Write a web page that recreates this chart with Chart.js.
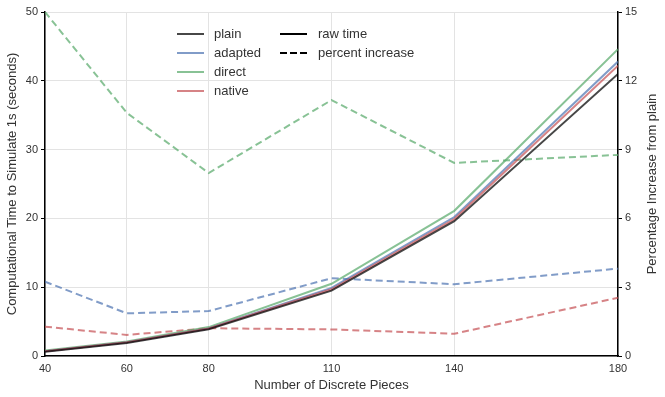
<!DOCTYPE html>
<html>
<head>
<meta charset="utf-8">
<script src="https://cdn.jsdelivr.net/npm/chart.js@4/dist/chart.umd.min.js"></script>
<style>
  html, body { margin: 0; padding: 0; background: #fff; }
  #wrap { width: 665px; height: 397px; }
</style>
</head>
<body>
<div id="wrap"><canvas id="myChart"></canvas></div>
<script>
// x values (number of discrete pieces)
var pieces = [40, 60, 80, 110, 140, 180]
// raw time, seconds (left axis)
var timePlain = [0.6, 1.9, 3.9, 9.5, 19.6, 41.0]
var timeAdapted = [0.7, 2.0, 4.0, 9.9, 20.2, 42.8]
var timeDirect = [0.8, 2.1, 4.2, 10.5, 21.1, 44.6]
var timeNative = [0.7, 2.0, 4.0, 9.7, 19.9, 42.2]
// percent increase from plain (right axis)
var pctAdapted = [3.24, 1.86, 1.96, 3.39, 3.13, 3.81]
var pctDirect = [15.0, 10.6, 7.98, 11.16, 8.42, 8.77]
var pctNative = [1.28, 0.92, 1.21, 1.16, 0.97, 2.54]
// tick labels
var leftTicks = [0, 10, 20, 30, 40, 50]
var rightTicks = [0, 3, 6, 9, 12, 15]

var colors = {
  plain: 'rgba(0, 0, 0, 0.72)',
  adapted: 'rgba(76, 114, 176, 0.7)',
  direct: 'rgba(85, 168, 104, 0.7)',
  native: 'rgba(196, 78, 82, 0.7)'
}
var font = '"Liberation Sans", Arial, sans-serif'

function pts (ys) {
  return pieces.map(function (x, i) { return { x: x, y: ys[i] } })
}

function line (data, color, axis, dashed, order) {
  return {
    data: pts(data),
    borderColor: color,
    backgroundColor: color,
    borderWidth: 2,
    borderDash: dashed ? [7, 4] : [],
    pointRadius: 0,
    fill: false,
    tension: 0,
    yAxisID: axis,
    order: order
  }
}

// two column legend and the right axis title
var extras = {
  id: 'extras',
  afterDraw: function (chart) {
    var c = chart.ctx
    c.save()
    c.font = '13px ' + font
    c.fillStyle = '#333'
    c.textBaseline = 'middle'
    c.lineWidth = 2
    var rows = [['plain', colors.plain], ['adapted', colors.adapted], ['direct', colors.direct], ['native', colors.native]]
    rows.forEach(function (r, i) {
      var y = 34 + i * 19
      c.strokeStyle = r[1]
      c.setLineDash([])
      c.beginPath(); c.moveTo(177, y); c.lineTo(204, y); c.stroke()
      c.fillText(r[0], 214, y)
    })
    var styles = [['raw time', []], ['percent increase', [7, 3]]]
    styles.forEach(function (s, i) {
      var y = 34 + i * 19
      c.strokeStyle = '#000'
      c.setLineDash(s[1])
      c.beginPath(); c.moveTo(280, y); c.lineTo(307, y); c.stroke()
      c.fillText(s[0], 318, y)
    })
    c.setLineDash([])
    c.translate(652, 184)
    c.rotate(-Math.PI / 2)
    c.textAlign = 'center'
    c.fillText('Percentage Increase from plain', 0, 0)
    c.restore()
  }
}

var ctx = document.getElementById('myChart')
var myChart = new Chart(ctx, {
  type: 'line',
  data: {
    datasets: [
      line(timePlain, colors.plain, 'y', false, 0),
      line(timeNative, colors.native, 'y', false, 1),
      line(timeAdapted, colors.adapted, 'y', false, 2),
      line(timeDirect, colors.direct, 'y', false, 3),
      line(pctAdapted, colors.adapted, 'y2', true, 4),
      line(pctDirect, colors.direct, 'y2', true, 5),
      line(pctNative, colors.native, 'y2', true, 6)
    ]
  },
  options: {
    responsive: true,
    maintainAspectRatio: false,
    animation: false,
    layout: { padding: { top: 12 } },
    plugins: { legend: { display: false }, tooltip: { enabled: false } },
    scales: {
      x: {
        type: 'linear',
        min: 40,
        max: 180,
        afterBuildTicks: function (s) { s.ticks = pieces.map(function (v) { return { value: v } }) },
        afterFit: function (s) { s.height = 41 },
        grid: { color: '#e3e3e3', drawTicks: false },
        border: { color: '#000', width: 1.5 },
        ticks: { color: '#333', font: { family: font, size: 11 }, padding: 6, maxRotation: 0 },
        title: { display: true, text: 'Number of Discrete Pieces', color: '#333', font: { family: font, size: 13 }, padding: { top: 1 } }
      },
      y: {
        position: 'left',
        min: 0,
        max: 50,
        afterBuildTicks: function (s) { s.ticks = leftTicks.map(function (v) { return { value: v } }) },
        afterFit: function (s) { s.width = 45 },
        grid: { color: '#e3e3e3', tickColor: '#000', tickLength: 4 },
        border: { color: '#000', width: 1.5 },
        ticks: { color: '#333', font: { family: font, size: 11 }, padding: 3 },
        title: { display: true, text: 'Computational Time to Simulate 1s (seconds)', color: '#333', font: { family: font, size: 13 }, padding: { top: 5, bottom: 0 } }
      },
      y2: {
        position: 'right',
        min: 0,
        max: 15,
        afterBuildTicks: function (s) { s.ticks = rightTicks.map(function (v) { return { value: v } }) },
        afterFit: function (s) { s.width = 47 },
        grid: { drawOnChartArea: false, tickColor: '#000', tickLength: 4 },
        border: { color: '#000', width: 1.5 },
        ticks: { color: '#333', font: { family: font, size: 11 }, padding: 3 }
      }
    }
  },
  plugins: [extras]
})
</script>
</body>
</html>
